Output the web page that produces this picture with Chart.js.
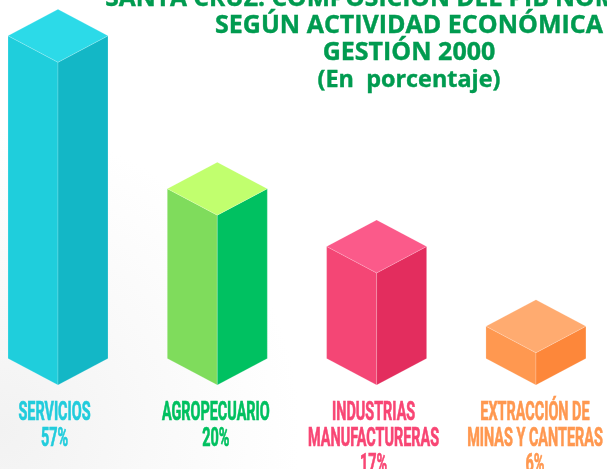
<!DOCTYPE html>
<html>
<head>
<meta charset="utf-8">
<style>
  html, body { margin: 0; padding: 0; background: #fff; overflow: hidden; }
  #wrap { width: 607px; height: 469px; }
</style>
<script src="https://cdn.jsdelivr.net/npm/chart.js@4"></script>
</head>
<body>
<div id="wrap"><canvas id="pibChart"></canvas></div>
<script>
const titleLines = ["SANTA CRUZ: COMPOSICIÓN DEL PIB NOMINAL", "SEGÚN ACTIVIDAD ECONÓMICA", "GESTIÓN 2000", "(En  porcentaje)"];
const categories = [["SERVICIOS"], ["AGROPECUARIO"], ["INDUSTRIAS", "MANUFACTURERAS"], ["EXTRACCIÓN DE", "MINAS Y CANTERAS"]];
const percentLabels = ["57%", "20%", "17%", "6%"];
// column heights as the picture draws them, they are not proportional to the printed percentages
const drawnHeights = [57, 30, 19.8, 5.7];
const topColors = ["#2cdae8", "#c1ff6e", "#fb5a8a", "#ffab70"];
const leftColors = ["#1fcedc", "#7fdc5c", "#f44675", "#ff9850"];
const rightColors = ["#13b7c6", "#00c161", "#e32d5e", "#fd873a"];
const textColors = ["#22ccdc", "#00c060", "#f84674", "#ff9850"];
const titleSizes = [24.6, 25, 25, 23.4];
const titleCenters = [391, 409, 409, 409];
const labelShift = [-3.5, -1.5, -3, -1];

function face(ctx, pts, color) {
  ctx.fillStyle = color;
  ctx.strokeStyle = "rgba(255,255,255,0.3)";
  ctx.lineWidth = 0.6;
  ctx.beginPath();
  pts.forEach(function (p, i) {
    if (i === 0) ctx.moveTo(p[0], p[1]);
    else ctx.lineTo(p[0], p[1]);
  });
  ctx.closePath();
  ctx.fill();
  ctx.stroke();
}

const softBackground = {
  id: "softBackground",
  beforeDraw: function (chart) {
    const ctx = chart.ctx;
    const g = ctx.createRadialGradient(0, 430, 0, 0, 430, 300);
    g.addColorStop(0, "#f2f2f2");
    g.addColorStop(0.5, "#f9f9f9");
    g.addColorStop(1, "#ffffff");
    ctx.save();
    ctx.fillStyle = g;
    ctx.fillRect(0, 0, chart.width, chart.height);
    ctx.restore();
  },
};

// the bars stay transparent, their scale positions are used for the three visible faces
const isoBars = {
  id: "isoBars",
  afterDatasetsDraw: function (chart) {
    const ctx = chart.ctx;
    const slope = 26.5;
    ctx.save();
    chart.getDatasetMeta(0).data.forEach(function (bar, i) {
      const half = bar.width / 2;
      const x = bar.x, y = bar.y, base = bar.base;
      face(ctx, [[x - half, y - slope], [x, y], [x, base], [x - half, base - slope]], leftColors[i]);
      face(ctx, [[x + half, y - slope], [x, y], [x, base], [x + half, base - slope]], rightColors[i]);
      face(ctx, [[x, y - 2 * slope], [x + half, y - slope], [x, y], [x - half, y - slope]], topColors[i]);
    });
    ctx.restore();
  },
};

// no condensed font is installed, so the column labels are squeezed horizontally
const columnLabels = {
  id: "columnLabels",
  afterDraw: function (chart) {
    const ctx = chart.ctx;
    const squeeze = 0.565;
    chart.getDatasetMeta(0).data.forEach(function (bar, i) {
      const lines = categories[i].concat(percentLabels[i]);
      ctx.save();
      ctx.translate(bar.x + labelShift[i], 0);
      ctx.scale(squeeze, 1);
      ctx.font = "bold 25.5px Roboto";
      ctx.textAlign = "center";
      ctx.fillStyle = textColors[i];
      ctx.strokeStyle = textColors[i];
      ctx.lineWidth = 0.7;
      lines.forEach(function (line, j) {
        ctx.fillText(line, 0, 419.5 + j * 26.2);
        ctx.strokeText(line, 0, 419.5 + j * 26.2);
      });
      ctx.restore();
    });
  },
};

const sideTitle = {
  id: "sideTitle",
  afterDraw: function (chart) {
    const ctx = chart.ctx;
    ctx.save();
    ctx.fillStyle = "#009b50";
    ctx.strokeStyle = "#009b50";
    ctx.lineWidth = 0.4;
    ctx.textAlign = "center";
    titleLines.forEach(function (line, i) {
      ctx.font = "bold " + titleSizes[i] + "px 'Open Sans'";
      ctx.fillText(line, titleCenters[i], 5.5 + i * 27.3);
      ctx.strokeText(line, titleCenters[i], 5.5 + i * 27.3);
    });
    ctx.restore();
  },
};

new Chart(document.getElementById("pibChart"), {
  type: "bar",
  data: {
    datasets: [
      {
        label: "Composición del PIB",
        data: drawnHeights.map(function (h, i) { return { x: i, y: h }; }),
        backgroundColor: "rgba(0,0,0,0)",
        barThickness: 100,
      },
    ],
  },
  plugins: [softBackground, isoBars, columnLabels, sideTitle],
  options: {
    responsive: true,
    maintainAspectRatio: false,
    animation: false,
    layout: { padding: { left: 0, right: 0, top: 0, bottom: 84 } },
    plugins: {
      legend: { display: false },
      tooltip: { enabled: false },
    },
    scales: {
      y: { display: false, min: 0, max: 68 },
      x: { type: "linear", display: false, min: -0.364, max: 3.446, offset: false },
    },
  },
});
</script>
</body>
</html>
